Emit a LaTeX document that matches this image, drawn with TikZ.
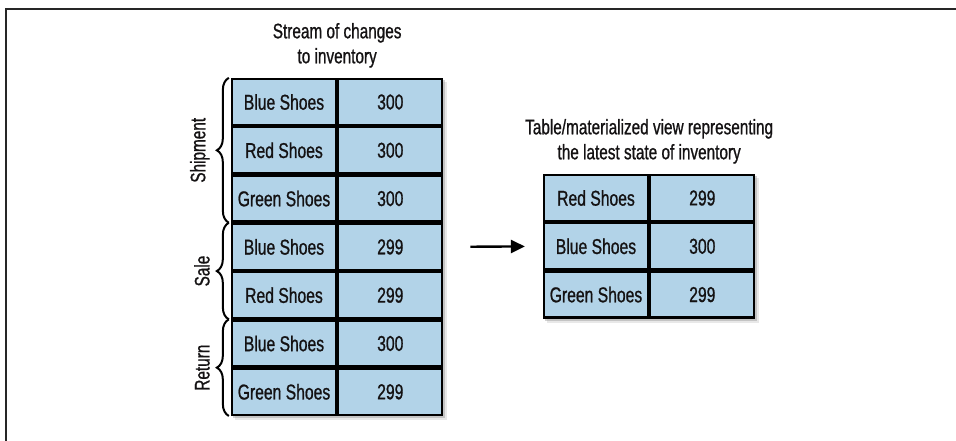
\documentclass[tikz,border=0pt]{standalone}
\usepackage{fontspec}
\setmainfont{Liberation Sans}[FakeStretch=0.73, FakeBold=0.9]
\usepackage{tikz}
\usetikzlibrary{arrows.meta,positioning,fit,calc,shadows,backgrounds,decorations.pathreplacing}
\definecolor{cellblue}{RGB}{178,211,232}
\definecolor{inkgray}{RGB}{20,18,19}

\begin{document}
\begin{tikzpicture}[
  x=1pt, y=1pt, node distance=0pt, text=inkgray,
  cell/.style={rectangle, draw=black, line width=2.3pt, fill=cellblue, minimum width=104pt, minimum height=46pt, inner sep=0pt, align=center, font=\fontsize{21.5}{25}\selectfont},
  title/.style={align=center, inner sep=0pt, font=\fontsize{21}{25}\selectfont},
  grp/.style={rotate=90, anchor=south, inner sep=0pt, font=\fontsize{21}{25}\selectfont},
  brace/.style={decorate, decoration={brace, amplitude=12pt, raise=2pt}, line width=2pt},
  tabshadow/.style={inner sep=0pt, fill=white, drop shadow={shadow xshift=4pt, shadow yshift=-4pt, opacity=.18}, drop shadow={shadow xshift=2pt, shadow yshift=-2pt, opacity=.35}},
  arr/.style={-{Triangle[length=14pt, width=13pt]}, line width=2.4pt},
  frame/.style={line width=2pt, draw=black!85}
]
\useasboundingbox (0,0) rectangle (956,-441);
\draw[frame] (6,-441) -- (6,-9) -- (956,-9);

% stream of changes
\node[cell] (s1) at (284,-102) {Blue Shoes};
\node[cell, right=of s1] (v1) {300};
\node[cell, below=of s1] (s2) {Red Shoes};
\node[cell, right=of s2] (v2) {300};
\node[cell, below=of s2] (s3) {Green Shoes};
\node[cell, right=of s3] (v3) {300};
\node[cell, below=of s3] (s4) {Blue Shoes};
\node[cell, right=of s4] (v4) {299};
\node[cell, below=of s4] (s5) {Red Shoes};
\node[cell, right=of s5] (v5) {299};
\node[cell, below=of s5] (s6) {Blue Shoes};
\node[cell, right=of s6] (v6) {300};
\node[cell, below=of s6] (s7) {Green Shoes};
\node[cell, right=of s7] (v7) {299};
\node[title, above=10pt of s1.north east] (stitle) {Stream of changes\\to inventory};

% latest state
\node[cell] (t1) at (596,-198) {Red Shoes};
\node[cell, right=of t1] (u1) {299};
\node[cell, below=of t1] (t2) {Blue Shoes};
\node[cell, right=of t2] (u2) {300};
\node[cell, below=of t2] (t3) {Green Shoes};
\node[cell, right=of t3] (u3) {299};
\node[title, above=10pt of t1.north east] (ttitle) {Table/materialized view representing\\the latest state of inventory};

\begin{scope}[on background layer]
\node[tabshadow, fit=(s1)(v7)] (sbox) {};
\node[tabshadow, fit=(t1)(u3)] (tbox) {};
\end{scope}

% groups
\draw[brace] (s3.south west) -- (s1.north west);
\draw[brace] (s5.south west) -- (s4.north west);
\draw[brace] (s7.south west) -- (s6.north west);
\node[grp] (gship) at ($(s1.north west)!0.5!(s3.south west)+(-21,0)$) {Shipment};
\node[grp] (gsale) at ($(s4.north west)!0.5!(s5.south west)+(-21,0)$) {Sale};
\node[grp] (gret) at ($(s6.north west)!0.5!(s7.south west)+(-21,0)$) {Return};

\draw[arr, shorten <=27pt, shorten >=18pt] (v4.east) -- (t2.west);
\end{tikzpicture}
\end{document}
